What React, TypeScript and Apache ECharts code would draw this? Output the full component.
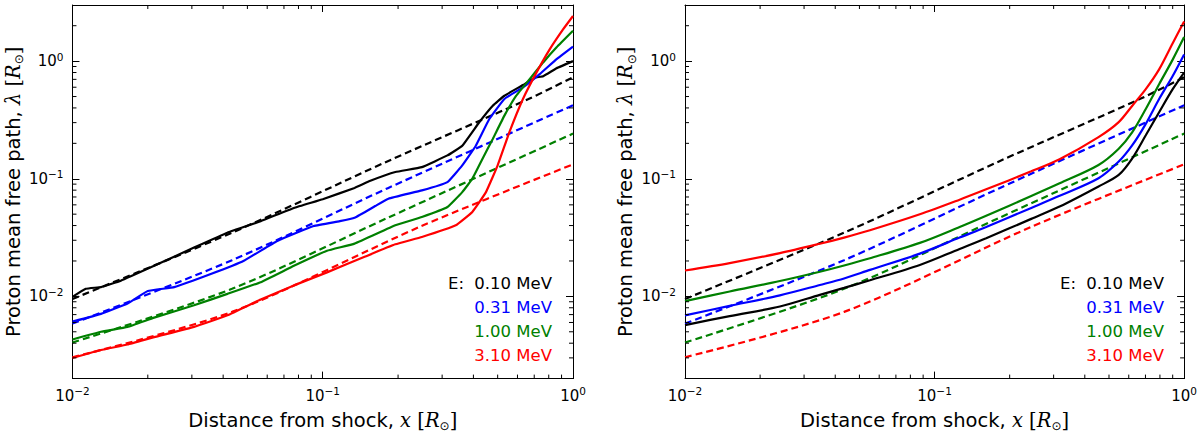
import React, { useEffect, useRef } from 'react';
import * as echarts from 'echarts';

// energies shown in the text legend of each panel
const energyLabels = ['0.10 MeV', '0.31 MeV', '1.00 MeV', '3.10 MeV'];
const energyColors = ['#000000', '#0000ff', '#008000', '#ff0000'];

// left panel, solid curves: [distance x, mean free path]
const leftSolid010 = [
  [0.01, 0.0099], [0.0113, 0.0116], [0.013, 0.012], [0.0156, 0.0136], [0.0212, 0.0182],
  [0.0306, 0.026], [0.0416, 0.0348], [0.0565, 0.0436], [0.0767, 0.0565], [0.1, 0.067],
  [0.134, 0.0835], [0.155, 0.096], [0.195, 0.114], [0.249, 0.1256], [0.315, 0.158],
  [0.361, 0.191], [0.422, 0.302], [0.478, 0.418], [0.532, 0.508], [0.631, 0.626],
  [0.7, 0.72], [0.76, 0.745], [0.86, 0.87], [1.0, 1.0],
];
const leftSolid031 = [
  [0.01, 0.0061], [0.013, 0.0071], [0.0166, 0.0087], [0.02, 0.0111], [0.0255, 0.012],
  [0.0357, 0.0155], [0.0484, 0.0201], [0.0658, 0.0296], [0.092, 0.0396], [0.117, 0.0436],
  [0.134, 0.0466], [0.162, 0.0586], [0.183, 0.0677], [0.249, 0.0796], [0.315, 0.0937],
  [0.361, 0.13], [0.409, 0.191], [0.463, 0.322], [0.532, 0.477], [0.631, 0.598],
  [0.736, 0.776], [0.86, 1.04], [1.0, 1.33],
];
const leftSolid100 = [
  [0.01, 0.0043], [0.013, 0.005], [0.0166, 0.0055], [0.0212, 0.0066], [0.0306, 0.0084],
  [0.0416, 0.0105], [0.0565, 0.0132], [0.0767, 0.0182], [0.104, 0.0244], [0.134, 0.0281],
  [0.195, 0.0402], [0.249, 0.0473], [0.315, 0.0575], [0.361, 0.077], [0.396, 0.1],
  [0.435, 0.148], [0.478, 0.218], [0.532, 0.344], [0.593, 0.508], [0.671, 0.703],
  [0.76, 0.975], [0.86, 1.31], [1.0, 1.81],
];
const leftSolid310 = [
  [0.01, 0.003], [0.013, 0.0035], [0.0166, 0.0039], [0.0212, 0.0045], [0.0306, 0.0055],
  [0.0416, 0.0069], [0.0565, 0.0094], [0.0767, 0.0124], [0.104, 0.016], [0.147, 0.0217],
  [0.195, 0.0277], [0.249, 0.032], [0.34, 0.0402], [0.396, 0.0522], [0.449, 0.077],
  [0.5, 0.13], [0.557, 0.249], [0.631, 0.477], [0.715, 0.802], [0.807, 1.26],
  [0.914, 1.87], [1.0, 2.42],
];

// right panel, solid curves (shared x samples)
const rightX = [0.01, 0.0151, 0.024, 0.0347, 0.0434, 0.0551, 0.0873, 0.126, 0.161, 0.244, 0.317, 0.454, 0.547, 0.62, 0.702, 0.794, 0.9, 1.0];
const rightSolid010 = [0.0057, 0.0068, 0.0082, 0.0103, 0.0118, 0.0137, 0.0185, 0.0253, 0.0312, 0.0456, 0.058, 0.086, 0.1077, 0.149, 0.234, 0.368, 0.578, 0.8];
const rightSolid031 = [0.0069, 0.0083, 0.0102, 0.0125, 0.0142, 0.0168, 0.0231, 0.0316, 0.0389, 0.0565, 0.0716, 0.101, 0.14, 0.193, 0.293, 0.476, 0.748, 1.14];
const rightSolid100 = [0.0091, 0.011, 0.0135, 0.0162, 0.0183, 0.0211, 0.0285, 0.0389, 0.0485, 0.0713, 0.0914, 0.131, 0.18, 0.249, 0.392, 0.637, 1.03, 1.6];
const rightSolid310 = [0.0166, 0.0192, 0.0233, 0.028, 0.0316, 0.0365, 0.0499, 0.0664, 0.0813, 0.1156, 0.1466, 0.226, 0.303, 0.418, 0.578, 0.851, 1.42, 2.17];

// dashed reference curves (same in both panels)
const dashed010 = [[0.01, 0.0095], [0.0434, 0.0348], [0.182, 0.141], [0.664, 0.476], [1.0, 0.73]];
const dashed031 = [[0.01, 0.00587], [0.0434, 0.0203], [0.182, 0.0832], [1.0, 0.421]];
const dashed100 = [[0.01, 0.00405], [0.0434, 0.0116], [0.182, 0.0466], [1.0, 0.242]];
const dashed310 = [[0.01, 0.00304], [0.0434, 0.00738], [0.248, 0.0396], [1.0, 0.1325]];

// axis ranges and minor tick positions
const xRange = [0.01, 1];
const yRange = [0.002, 3];
const xMinorTicks = [0.02, 0.03, 0.04, 0.05, 0.06, 0.07, 0.08, 0.09, 0.2, 0.3, 0.4, 0.5, 0.6, 0.7, 0.8, 0.9];
const yMinorTicks = [
  0.003, 0.004, 0.005, 0.006, 0.007, 0.008, 0.009,
  0.02, 0.03, 0.04, 0.05, 0.06, 0.07, 0.08, 0.09,
  0.2, 0.3, 0.4, 0.5, 0.6, 0.7, 0.8, 0.9, 2,
];

const zipRight = (ys: number[]) => rightX.map((x, i) => [x, ys[i]]);

const panels = [
  { left: 71, width: 502, smooth: 0.1, solids: [leftSolid010, leftSolid031, leftSolid100, leftSolid310] },
  {
    left: 685, width: 500, smooth: 0.3,
    solids: [zipRight(rightSolid010), zipRight(rightSolid031), zipRight(rightSolid100), zipRight(rightSolid310)],
  },
];
const dashedLines = [dashed010, dashed031, dashed100, dashed310];
const gridTop = 5;
const gridHeight = 377;

const FONT = 'DejaVu Sans';

const tickLabel = (v: number) => {
  const e = Math.round(Math.log10(v));
  return `{b|10}{s|${e < 0 ? '\u2212' + -e : e}}`;
};

const tickRich = {
  b: { fontSize: 15, lineHeight: 20, color: '#000', fontFamily: FONT },
  s: { fontSize: 10.5, lineHeight: 11, verticalAlign: 'top', color: '#000', fontFamily: FONT },
};

const nameRich = {
  i: { fontFamily: 'DejaVu Serif', fontStyle: 'italic', fontSize: 19.5, color: '#000', lineHeight: 24 },
  r: { fontFamily: 'DejaVu Serif', fontSize: 19.5, color: '#000', lineHeight: 24 },
  o: { fontFamily: 'DejaVu Sans', fontSize: 12, color: '#000', lineHeight: 12, verticalAlign: 'bottom' },
};

const App: React.FC = () => {
  const chartRef = useRef<HTMLDivElement>(null);

  useEffect(() => {
    document.body.style.margin = '0';
    if (!chartRef.current) return;
    const chart = echarts.init(chartRef.current, null, { renderer: 'svg' });

    const grids = panels.map((p) => ({
      left: p.left, top: gridTop, width: p.width, height: gridHeight, containLabel: false,
    }));

    const xAxes: any[] = [];
    const yAxes: any[] = [];
    panels.forEach((_, gi) => {
      const base = {
        type: 'log', logBase: 10, gridIndex: gi,
        axisLine: { show: true, onZero: false, lineStyle: { color: '#000', width: 1 } },
        axisTick: { show: true, inside: true, length: 7, lineStyle: { color: '#000' } },
        splitLine: { show: false },
      };
      xAxes.push({
        ...base, position: 'bottom', min: xRange[0], max: xRange[1],
        axisLabel: { margin: 7, formatter: tickLabel, rich: tickRich },
        name: 'Distance from shock, {i|x} {r|[}{i|R}{o|\u2299}{r|]}',
        nameLocation: 'middle', nameGap: 26,
        nameTextStyle: { fontSize: 19.5, color: '#000', fontFamily: FONT, lineHeight: 24, rich: nameRich },
      });
      xAxes.push({
        ...base, position: 'top', min: xRange[0], max: xRange[1], axisLabel: { show: false },
      });
      yAxes.push({
        ...base, position: 'left', min: yRange[0], max: yRange[1],
        axisLabel: { margin: 9, formatter: tickLabel, rich: tickRich, showMinLabel: false, showMaxLabel: false },
        name: 'Proton mean free path, {i|\u03bb} {r|[}{i|R}{o|\u2299}{r|]}',
        nameLocation: 'middle', nameGap: 45,
        nameTextStyle: { fontSize: 19.5, color: '#000', fontFamily: FONT, lineHeight: 24, rich: nameRich },
      });
      yAxes.push({
        ...base, position: 'right', min: yRange[0], max: yRange[1], axisLabel: { show: false },
      });
    });

    const series: any[] = [];
    panels.forEach((p, gi) => {
      const xi = gi * 2;
      const yi = gi * 2;
      dashedLines.forEach((d, k) => {
        series.push({
          type: 'line', xAxisIndex: xi, yAxisIndex: yi, data: d, symbol: 'none', smooth: 0.3,
          lineStyle: { color: energyColors[k], width: 2.2, type: [7, 4] }, z: 2,
        });
      });
      p.solids.forEach((d, k) => {
        series.push({
          type: 'line', xAxisIndex: xi, yAxisIndex: yi, data: d, symbol: 'none',
          smooth: p.smooth,
          lineStyle: { color: energyColors[k], width: 2.2 }, z: 3,
        });
      });
      // minor ticks on all four sides, placed through the axes
      const tickData = [
        ...xMinorTicks.map((v) => [v, 0.01, 1]),
        ...yMinorTicks.map((v) => [0.01, v, 0]),
      ];
      series.push({
        type: 'custom', xAxisIndex: xi, yAxisIndex: yi, data: tickData, z: 5, silent: true,
        encode: { x: 0, y: 1 },
        renderItem: (params: any, api: any) => {
          const cs = params.coordSys;
          const pt = api.coord([api.value(0), api.value(1)]);
          const len = 4;
          const style = { stroke: '#000', lineWidth: 1 };
          if (api.value(2) === 1) {
            return {
              type: 'group',
              children: [
                { type: 'line', shape: { x1: pt[0], y1: cs.y + cs.height, x2: pt[0], y2: cs.y + cs.height - len }, style },
                { type: 'line', shape: { x1: pt[0], y1: cs.y, x2: pt[0], y2: cs.y + len }, style },
              ],
            };
          }
          return {
            type: 'group',
            children: [
              { type: 'line', shape: { x1: cs.x, y1: pt[1], x2: cs.x + len, y2: pt[1] }, style },
              { type: 'line', shape: { x1: cs.x + cs.width, y1: pt[1], x2: cs.x + cs.width - len, y2: pt[1] }, style },
            ],
          };
        },
      });
    });

    // text legend inside each panel
    const graphic: any[] = [];
    panels.forEach((p) => {
      const rightEdge = p.left + p.width - 21;
      energyLabels.forEach((lab, k) => {
        graphic.push({
          type: 'text', x: rightEdge, y: 283 + k * 24,
          style: {
            text: lab, fill: energyColors[k], font: `16.5px "${FONT}"`,
            textAlign: 'right', textVerticalAlign: 'middle',
          },
        });
      });
      graphic.push({
        type: 'text', x: rightEdge - 104, y: 283,
        style: { text: 'E:', fill: '#000', font: `16.5px "${FONT}"`, textAlign: 'left', textVerticalAlign: 'middle' },
      });
    });

    chart.setOption({
      animation: false,
      backgroundColor: '#ffffff',
      textStyle: { fontFamily: FONT },
      grid: grids,
      xAxis: xAxes,
      yAxis: yAxes,
      series,
      graphic,
    });

    const handleResize = () => chart.resize();
    window.addEventListener('resize', handleResize);
    return () => {
      window.removeEventListener('resize', handleResize);
      chart.dispose();
    };
  }, []);

  return (
    <div
      ref={chartRef}
      style={{ position: 'absolute', left: 0, top: 0, width: '1200px', height: '437px' }}
    />
  );
};

export default App;
